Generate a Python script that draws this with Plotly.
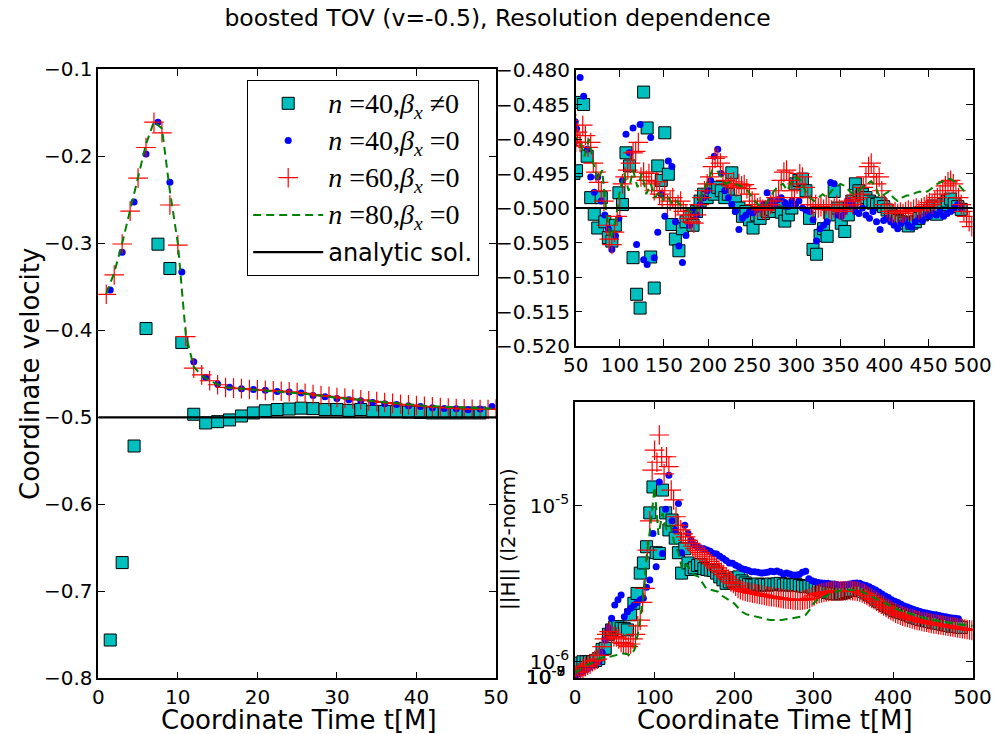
import numpy as np
import plotly.graph_objects as go

# ---------------- Coordinate velocity data ----------------
# n=40, beta_x != 0  (cyan squares)
t_sq_a = np.arange(1.5, 48.01, 1.5)
v_sq_a = [-0.756, -0.667, -0.533, -0.398, -0.301, -0.329, -0.414, -0.4965, -0.5065, -0.505,
          -0.503, -0.4985, -0.495, -0.4925, -0.491, -0.4905, -0.4895, -0.490, -0.491, -0.491,
          -0.492, -0.491, -0.4932, -0.4932, -0.4936, -0.494, -0.4944, -0.495, -0.495, -0.495,
          -0.495, -0.495]
t_sq_b = np.arange(51, 488, 4)
v_sq_b = [-0.4946, -0.4847, -0.4850, -0.4925, -0.4985, -0.5009, -0.5029, -0.4985, -0.5020, -0.5043,
          -0.5048, -0.5025, -0.4978, -0.4995, -0.4920, -0.4939, -0.5072, -0.5125, -0.5145, -0.4832,
          -0.4884, -0.5071, -0.5116, -0.4939, -0.4960, -0.4891, -0.4951, -0.5024, -0.5045, -0.5062,
          -0.5030, -0.5020, -0.5012, -0.5025, -0.5005, -0.4990, -0.4980, -0.4985, -0.4975, -0.4980,
          -0.4970, -0.4975, -0.4985, -0.4980, -0.4949, -0.4990, -0.5000, -0.5012, -0.5005, -0.5017,
          -0.5029, -0.5010, -0.5015, -0.5008, -0.5005, -0.5002, -0.5005, -0.4998, -0.5006, -0.5019,
          -0.5010, -0.5000, -0.4965, -0.4960, -0.4958, -0.4975, -0.5015, -0.5060, -0.5067, -0.5040,
          -0.5030, -0.5041, -0.5010, -0.4976, -0.5000, -0.5022, -0.5034, -0.5010, -0.4990, -0.4965,
          -0.4975, -0.4980, -0.4985, -0.4990, -0.4993, -0.4995, -0.4993, -0.4998, -0.5003, -0.5008,
          -0.5012, -0.5018, -0.5020, -0.5022, -0.5026, -0.5022, -0.5020, -0.5015, -0.5010, -0.5008,
          -0.5003, -0.4997, -0.5009, -0.5000, -0.4995, -0.4990, -0.4987, -0.4994, -0.4998, -0.5002]

# n=40, beta_x = 0  (blue dots)
t_b_a = np.arange(1.5, 49.51, 1.5)
v_b_a = [-0.3536, -0.3104, -0.2526, -0.1975, -0.1608, -0.2297, -0.333, -0.4362, -0.4542, -0.4618,
         -0.4655, -0.4672, -0.468, -0.4688, -0.4703, -0.471, -0.4722, -0.4749, -0.4764, -0.4783,
         -0.4799, -0.481, -0.4829, -0.4844, -0.4852, -0.4867, -0.4875, -0.489, -0.4898, -0.4902,
         -0.4913, -0.4906, -0.4875]
t_b_b = np.arange(51, 488, 4)
v_b_b = [-0.4885, -0.4811, -0.4838, -0.4915, -0.4955, -0.4977, -0.4955, -0.4990, -0.5010, -0.5030,
         -0.5060, -0.5040, -0.5015, -0.4960, -0.4893, -0.4920, -0.4884, -0.5053, -0.4879, -0.5075,
         -0.5082, -0.4898, -0.5072, -0.5035, -0.4980, -0.5012, -0.4932, -0.4940, -0.5020, -0.5055,
         -0.5079, -0.5040, -0.5025, -0.5005, -0.5010, -0.4995, -0.4985, -0.4975, -0.4960, -0.4925,
         -0.4915, -0.4950, -0.4975, -0.4985, -0.4995, -0.5005, -0.5031, -0.5015, -0.5010, -0.5005,
         -0.5007, -0.5002, -0.5000, -0.4995, -0.4978, -0.4990, -0.4995, -0.4988, -0.4985, -0.4992,
         -0.4998, -0.4990, -0.4995, -0.4990, -0.5000, -0.5003, -0.5005, -0.5017, -0.5048, -0.5030,
         -0.5025, -0.5020, -0.4963, -0.4965, -0.5010, -0.5012, -0.5005, -0.4990, -0.4995, -0.5005,
         -0.5008, -0.5000, -0.5010, -0.5015, -0.5005, -0.5020, -0.5031, -0.5018, -0.5015, -0.5020,
         -0.5025, -0.5030, -0.5022, -0.5018, -0.5025, -0.5028, -0.5020, -0.5015, -0.5018, -0.5010,
         -0.5012, -0.5008, -0.5010, -0.5005, -0.5012, -0.5008, -0.5005, -0.5000, -0.4995, -0.5000]

# n=60, beta_x = 0  (red pluses)
t_r_a = np.arange(1, 51, 1)
v_r_a = [-0.3586, -0.3364, -0.3008, -0.263, -0.2251, -0.1899, -0.1608, -0.173, -0.256, -0.302,
         -0.4072, -0.4435, -0.4512, -0.458, -0.4626, -0.4657, -0.4665, -0.467, -0.468, -0.4685,
         -0.469, -0.4695, -0.470, -0.4707, -0.4715, -0.4725, -0.4738, -0.475, -0.476, -0.4772,
         -0.478, -0.479, -0.480, -0.481, -0.482, -0.483, -0.484, -0.485, -0.4857, -0.4865,
         -0.4873, -0.488, -0.4887, -0.4893, -0.4898, -0.4903, -0.4907, -0.491, -0.491, -0.4905]
t_r_b = np.arange(52, 500, 3)
v_r_b = [-0.4890, -0.4905, -0.4880, -0.4895, -0.4912, -0.4905, -0.4935, -0.4948, -0.4963, -0.4975,
         -0.4990, -0.5025, -0.5045, -0.5053, -0.5035, -0.5012, -0.5000, -0.4965, -0.4955, -0.4945,
         -0.4935, -0.4920, -0.4918, -0.4905, -0.4955, -0.4948, -0.4960, -0.4950, -0.4965, -0.4975,
         -0.4962, -0.4980, -0.4985, -0.4975, -0.4995, -0.4990, -0.4985, -0.5000, -0.4995, -0.4990,
         -0.5005, -0.5010, -0.5015, -0.5020, -0.5022, -0.5010, -0.4995, -0.4985, -0.4975, -0.4965,
         -0.4955, -0.4940, -0.4928, -0.4926, -0.4935, -0.4950, -0.4960, -0.4965, -0.4968, -0.4962,
         -0.4970, -0.4965, -0.4968, -0.4966, -0.4972, -0.4980, -0.4990, -0.4995, -0.5000, -0.4998,
         -0.5002, -0.5003, -0.5000, -0.4995, -0.4990, -0.4985, -0.4975, -0.4960, -0.4948, -0.4945,
         -0.4960, -0.4975, -0.4985, -0.4965, -0.4950, -0.4955, -0.4970, -0.4985, -0.4995, -0.5000,
         -0.4995, -0.5000, -0.4998, -0.5002, -0.4995, -0.5000, -0.5003, -0.5000, -0.4995, -0.5002,
         -0.5005, -0.5000, -0.4995, -0.4990, -0.4995, -0.4988, -0.4985, -0.4980, -0.4970, -0.4955,
         -0.4940, -0.4935, -0.4950, -0.4965, -0.4955, -0.4975, -0.4995, -0.5000, -0.5005, -0.5008,
         -0.5005, -0.5008, -0.5006, -0.5008, -0.5005, -0.5003, -0.5005, -0.5002, -0.5000, -0.5003,
         -0.5000, -0.4998, -0.4995, -0.4992, -0.4995, -0.4990, -0.4985, -0.4980, -0.4975, -0.4968,
         -0.4962, -0.4960, -0.4965, -0.4975, -0.4985, -0.4995, -0.5005, -0.5012, -0.5020, -0.5027]

# n=80, beta_x = 0  (green dashed)
t_g_a = np.arange(1, 51, 1)
v_g_a = [-0.358, -0.334, -0.300, -0.262, -0.222, -0.186, -0.160, -0.168, -0.240, -0.300,
         -0.405, -0.442, -0.452, -0.458, -0.462, -0.4655, -0.4665, -0.4672, -0.468, -0.4688,
         -0.4695, -0.470, -0.4705, -0.471, -0.472, -0.473, -0.4742, -0.4755, -0.4765, -0.4775,
         -0.4783, -0.4792, -0.4802, -0.4812, -0.482, -0.4828, -0.4837, -0.4845, -0.4852, -0.486,
         -0.4867, -0.4873, -0.4878, -0.4883, -0.4888, -0.4892, -0.4895, -0.4897, -0.4898, -0.4898]
t_g_b = np.arange(55, 496, 5)
v_g_b = [-0.4905, -0.4925, -0.4900, -0.4935, -0.4960, -0.4945, -0.5010, -0.5045, -0.5020, -0.4975,
         -0.4950, -0.4975, -0.4945, -0.4970, -0.4950, -0.4980, -0.4965, -0.4985, -0.4975, -0.4990,
         -0.4985, -0.4995, -0.4990, -0.4998, -0.5000, -0.5005, -0.5010, -0.4995, -0.4975, -0.4960,
         -0.4945, -0.4945, -0.4955, -0.4965, -0.4962, -0.4965, -0.4968, -0.4970, -0.4975, -0.4985,
         -0.4993, -0.4998, -0.4995, -0.4985, -0.4975, -0.4968, -0.4965, -0.4975, -0.4960, -0.4955,
         -0.4960, -0.4975, -0.4985, -0.4990, -0.4985, -0.4980, -0.4985, -0.4975, -0.4970, -0.4965,
         -0.4968, -0.4975, -0.4980, -0.4976, -0.4970, -0.4965, -0.4961, -0.4970, -0.4985, -0.4980,
         -0.4976, -0.4985, -0.4990, -0.4985, -0.4982, -0.4982, -0.4978, -0.4976, -0.4978, -0.4975,
         -0.4970, -0.4965, -0.4962, -0.4958, -0.4958, -0.4962, -0.4968, -0.4975, -0.4978]

# analytic solution
t_an = [0, 500]
v_an = [-0.5, -0.5]

# ---------------- ||H|| (l2-norm) data, in units of 1e-6 ----------------
t_hsq = np.arange(2, 487, 4)
h_sq = [0.91, 0.98, 1.0, 1.0, 1.0, 1.0, 1.02, 1.05, 1.20, 1.22,
        1.50, 1.60, 1.67, 1.68, 1.64, 1.63, 1.60, 2.00, 2.37, 2.74,
        3.70, 4.30, 5.46, 9.0, 13.2, 5.0, 4.95, 12.6, 9.0, 7.0,
        8.1, 6.2, 5.0, 3.70, 5.3, 4.3, 3.9, 4.0, 4.15, 4.2,
        3.95, 3.90, 3.87, 3.85, 3.70, 3.50, 3.35, 3.18, 3.25, 3.30,
        3.45, 3.50, 3.30, 3.20, 3.12, 3.10, 3.10, 3.15, 3.10, 3.12,
        3.10, 3.15, 3.12, 3.15, 3.18, 3.10, 3.15, 3.12, 3.10, 3.12,
        3.08, 3.05, 3.03, 3.05, 3.00, 2.95, 2.90, 2.85, 2.81, 2.78,
        2.75, 2.73, 2.72, 2.74, 2.78, 2.82, 2.86, 2.88, 2.88, 2.86,
        2.82, 2.76, 2.68, 2.60, 2.52, 2.44, 2.36, 2.30, 2.24, 2.18,
        2.13, 2.09, 2.06, 2.04, 2.00, 1.96, 1.93, 1.90, 1.87, 1.85,
        1.83, 1.81, 1.79, 1.77, 1.76, 1.74, 1.72, 1.71, 1.69, 1.68,
        1.67, 1.66]

t_hb = np.arange(2, 483, 4)
h_b = [0.82, 0.84, 0.87, 0.89, 0.92, 0.95, 0.98, 1.00, 1.15, 1.38,
       1.65, 1.90, 2.31, 2.50, 2.68, 1.94, 2.09, 2.20, 2.30, 2.40,
       2.50, 2.55, 3.00, 3.34, 6.65, 4.06, 14.2, 4.95, 9.5, 15.7,
       8.0, 7.0, 10.35, 5.0, 7.5, 6.65, 6.0, 5.60, 5.45, 5.35,
       5.30, 5.20, 5.10, 4.95, 4.90, 4.75, 4.60, 4.45, 4.30, 4.28,
       4.15, 4.06, 3.95, 3.90, 3.85, 3.78, 3.78, 3.75, 3.70, 3.72,
       3.75, 3.80, 3.78, 3.82, 3.75, 3.65, 3.70, 3.65, 3.60, 3.60,
       3.62, 3.75, 3.80, 3.40, 3.30, 3.26, 3.22, 3.20, 3.18, 3.18,
       3.15, 3.15, 3.12, 3.10, 3.12, 3.12, 3.15, 3.18, 3.20, 3.18,
       3.12, 3.08, 3.02, 2.95, 2.88, 2.80, 2.72, 2.64, 2.58, 2.50,
       2.44, 2.40, 2.34, 2.28, 2.24, 2.20, 2.16, 2.13, 2.10, 2.07,
       2.05, 2.03, 2.01, 2.00, 1.98, 1.96, 1.94, 1.92, 1.91, 1.90,
       1.89]

t_hr = np.arange(1, 500, 3)
h_r = [0.82, 0.85, 0.87, 0.90, 0.93, 0.95, 0.97, 1.00, 1.02, 1.04,
       1.10, 1.25, 1.40, 1.50, 1.56, 1.50, 1.45, 1.44, 1.40, 1.33,
       1.31, 1.28, 1.25, 1.30, 1.40, 1.50, 1.70, 1.85, 2.40, 2.95,
       5.20, 8.0, 16.9, 22.7, 19.0, 28.4, 20.6, 16.0, 20.6, 17.8,
       12.6, 10.9, 8.5, 7.5, 7.0, 6.6, 6.32, 6.0, 5.75, 5.50,
       5.30, 5.15, 5.0, 4.85, 4.71, 4.55, 4.40, 4.25, 4.12, 4.00,
       3.85, 3.75, 3.62, 3.50, 3.38, 3.25, 3.18, 3.05, 2.95, 2.90,
       2.85, 2.82, 2.80, 2.78, 2.75, 2.74, 2.72, 2.70, 2.68, 2.66,
       2.64, 2.62, 2.61, 2.60, 2.58, 2.57, 2.55, 2.54, 2.53, 2.52,
       2.51, 2.49, 2.49, 2.48, 2.48, 2.49, 2.50, 2.52, 2.55, 2.60,
       2.65, 2.70, 2.74, 2.76, 2.78, 2.80, 2.82, 2.83, 2.84, 2.85,
       2.85, 2.84, 2.84, 2.85, 2.86, 2.86, 2.85, 2.84, 2.82, 2.80,
       2.76, 2.72, 2.66, 2.60, 2.55, 2.50, 2.44, 2.38, 2.33, 2.28,
       2.23, 2.18, 2.13, 2.09, 2.05, 2.02, 1.99, 1.96, 1.94, 1.92,
       1.90, 1.88, 1.86, 1.84, 1.83, 1.81, 1.80, 1.79, 1.77, 1.76,
       1.75, 1.74, 1.73, 1.72, 1.71, 1.70, 1.69, 1.68, 1.67, 1.66,
       1.65, 1.64, 1.63, 1.62, 1.61, 1.60, 1.59]

t_hg = np.arange(0, 501, 5)
h_g = [0.85, 0.88, 0.93, 0.95, 0.97, 1.00, 1.05, 1.07, 1.08, 1.08,
       1.10, 1.12, 1.13, 1.12, 1.10, 1.20, 1.60, 2.40, 4.71, 7.5,
       13.2, 6.5, 9.0, 6.98, 7.5, 5.74, 5.0, 3.87, 4.2, 3.9,
       3.60, 3.51, 3.20, 2.95, 2.90, 2.85, 2.81, 2.65, 2.55, 2.45,
       2.37, 2.22, 2.09, 2.02, 1.99, 1.96, 1.945, 1.90, 1.87, 1.85,
       1.85, 1.84, 1.85, 1.87, 1.89, 1.90, 1.92, 1.95, 1.995, 2.15,
       2.37, 2.50, 2.58, 2.61, 2.74, 2.80, 2.84, 2.86, 2.88, 2.88,
       2.88, 2.86, 2.82, 2.74, 2.66, 2.58, 2.50, 2.43, 2.37, 2.30,
       2.23, 2.17, 2.12, 2.08, 2.04, 2.00, 1.96, 1.93, 1.90, 1.87,
       1.85, 1.83, 1.81, 1.79, 1.77, 1.76, 1.74, 1.73, 1.72, 1.71,
       1.70]
H_UNIT = 1e-6

labels = ['<i>n</i> =40,<i>β<sub>x</sub></i> ≠0',
          '<i>n</i> =40,<i>β<sub>x</sub></i> =0',
          '<i>n</i> =60,<i>β<sub>x</sub></i> =0',
          '<i>n</i> =80,<i>β<sub>x</sub></i> =0',
          'analytic sol.']
SERIF = "Liberation Serif"
leg_names = ['<span style="font-family:%s;font-size:28px">%s</span>' % (SERIF, l) for l in labels[:4]] + [labels[4]]

CYAN = '#00BFBF'
sq_marker = dict(symbol='square', size=12, color=CYAN, line=dict(color='black', width=1))
b_marker = dict(symbol='circle', size=7, color='#0000FF', line=dict(width=0))
r_marker = dict(symbol='cross-thin', size=14, color='#FF0000', line=dict(color='#FF0000', width=1.2))
g_line = dict(color='#008000', width=2, dash='8px,5px')

fig = go.Figure()

for xa, ya, show in [('x', 'y', True), ('x2', 'y2', False)]:
    fig.add_trace(go.Scatter(x=np.concatenate([t_sq_a, t_sq_b]), y=v_sq_a + v_sq_b, mode='markers',
                             marker=sq_marker, name=leg_names[0], legendgroup='g0', showlegend=show,
                             xaxis=xa, yaxis=ya))
    fig.add_trace(go.Scatter(x=np.concatenate([t_b_a, t_b_b]), y=v_b_a + v_b_b, mode='markers',
                             marker=b_marker, name=leg_names[1], legendgroup='g1', showlegend=show,
                             xaxis=xa, yaxis=ya))
    fig.add_trace(go.Scatter(x=np.concatenate([t_r_a, t_r_b]), y=v_r_a + v_r_b, mode='markers',
                             marker=r_marker, name=leg_names[2], legendgroup='g2', showlegend=show,
                             xaxis=xa, yaxis=ya))
    fig.add_trace(go.Scatter(x=np.concatenate([t_g_a, t_g_b]), y=v_g_a + v_g_b, mode='lines',
                             line=g_line, name=leg_names[3], legendgroup='g3', showlegend=show,
                             xaxis=xa, yaxis=ya))
    fig.add_trace(go.Scatter(x=t_an, y=v_an, mode='lines', line=dict(color='black', width=2.2),
                             name=leg_names[4], legendgroup='g4', showlegend=show,
                             xaxis=xa, yaxis=ya))

# constraint norm panel
fig.add_trace(go.Scatter(x=t_hsq, y=np.array(h_sq) * H_UNIT, mode='markers', marker=sq_marker,
                         showlegend=False, xaxis='x3', yaxis='y3'))
fig.add_trace(go.Scatter(x=t_hb, y=np.array(h_b) * H_UNIT, mode='markers', marker=b_marker,
                         showlegend=False, xaxis='x3', yaxis='y3'))
fig.add_trace(go.Scatter(x=t_hr, y=np.array(h_r) * H_UNIT, mode='markers', marker=r_marker,
                         showlegend=False, xaxis='x3', yaxis='y3'))
fig.add_trace(go.Scatter(x=t_hg, y=np.array(h_g) * H_UNIT, mode='lines', line=g_line,
                         showlegend=False, xaxis='x3', yaxis='y3'))

TICKFONT = dict(family='DejaVu Sans', size=20, color='black')
axis_common = dict(showline=True, linecolor='black', linewidth=1.5, mirror='ticks', ticks='inside',
                   ticklen=7, tickwidth=1.2, tickcolor='black', showgrid=False, zeroline=False,
                   tickfont=TICKFONT, automargin=False)

W, H = 995, 734
def px_x(a, b):
    return [a / W, b / W]
def px_y(top, bottom):
    return [(H - bottom) / H, (H - top) / H]

fig.update_layout(
    width=W, height=H, autosize=False,
    margin=dict(l=0, r=0, t=0, b=0, pad=0, autoexpand=False),
    paper_bgcolor='white', plot_bgcolor='white',
    font=dict(family='DejaVu Sans', color='black'),
    title=dict(text='boosted TOV (v=-0.5), Resolution dependence', x=0.5, xanchor='center',
               y=1 - 18 / H, yanchor='middle', font=dict(family='DejaVu Sans', size=23.5, color='black')),
    xaxis=dict(domain=px_x(98.3, 496), range=[0, 50], tickvals=[0, 10, 20, 30, 40, 50], anchor='y',
               **axis_common),
    yaxis=dict(domain=px_y(69.3, 678.3), range=[-0.8, -0.1], tickvals=[-0.8, -0.7, -0.6, -0.5, -0.4, -0.3, -0.2, -0.1],
               tickformat='.1f', anchor='x', **axis_common),
    xaxis2=dict(domain=px_x(575.7, 972.7), range=[50, 500], tickvals=list(range(50, 501, 50)), anchor='y2',
                **axis_common),
    yaxis2=dict(domain=px_y(70, 346), range=[-0.52, -0.48], tickvals=[-0.52 + 0.005 * i for i in range(9)],
                tickformat='.3f', anchor='x2', **axis_common),
    xaxis3=dict(domain=px_x(575, 972.7), range=[0, 500], tickvals=[0, 100, 200, 300, 400, 500], anchor='y3',
                **axis_common),
    yaxis3=dict(domain=px_y(402.3, 678.3), type='log', range=[-6.106, -4.337], tickvals=[1e-6, 1e-5],
                ticktext=['10<sup>-6</sup>', '10<sup>-5</sup>'], anchor='x3', **axis_common),
    legend=dict(x=247 / W, xanchor='left', y=(H - 80) / H, yanchor='top', bgcolor='white',
                bordercolor='black', borderwidth=1.2, font=dict(family='DejaVu Sans', size=24, color='black'),
                tracegroupgap=3, itemwidth=70),
)

AXFONT = dict(family='DejaVu Sans', size=26, color='black')
fig.add_annotation(text='Coordinate velocity', x=30 / W, y=(H - 374) / H, xref='paper', yref='paper',
                   textangle=-90, showarrow=False, font=AXFONT, xanchor='center', yanchor='middle')
fig.add_annotation(text='Coordinate Time t[M]', x=299 / W, y=(H - 720) / H, xref='paper', yref='paper',
                   showarrow=False, font=AXFONT, xanchor='center', yanchor='middle')
fig.add_annotation(text='Coordinate Time t[M]', x=775 / W, y=(H - 720) / H, xref='paper', yref='paper',
                   showarrow=False, font=AXFONT, xanchor='center', yanchor='middle')
fig.add_annotation(text='||H|| (l2-norm)', x=508 / W, y=(H - 539) / H, xref='paper', yref='paper',
                   textangle=-90, showarrow=False, font=dict(family='DejaVu Sans', size=20, color='black'),
                   xanchor='center', yanchor='middle')
for sup in ['-7', '-8', '-9']:
    fig.add_annotation(text='10<sup>%s</sup>' % sup, x=567 / W, y=(H - 676) / H, xref='paper', yref='paper',
                       showarrow=False, font=TICKFONT, xanchor='right', yanchor='middle')

fig.write_html('out.html', config={'displayModeBar': False},
               post_script="document.body.style.margin='0px';")
